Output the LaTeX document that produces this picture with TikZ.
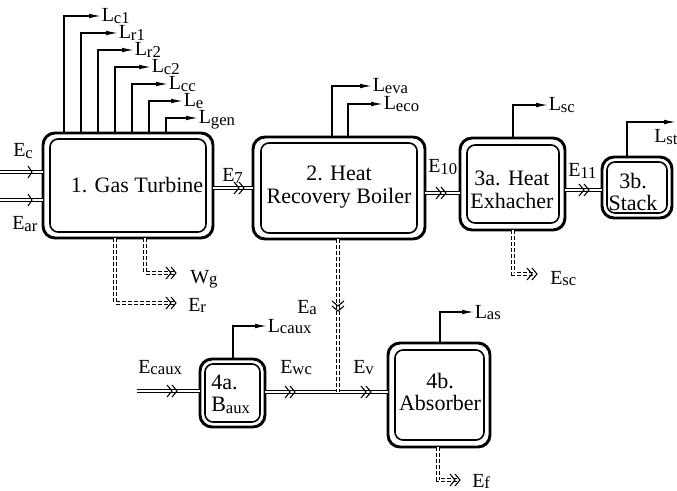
\documentclass[tikz,border=0pt]{standalone}
\usepackage{fontspec}
\setmainfont{Liberation Serif}
\usetikzlibrary{arrows.meta,fit,calc}
\newcommand\sbx[2]{#1{\fontsize{12.5}{12.5}\selectfont\raisebox{-0.8pt}{#2}}}
\begin{document}
\begin{tikzpicture}[x=0.75pt,y=-0.75pt,
  outerbox/.style={draw, line width=2.2pt, rounded corners=9pt, inner sep=0pt, outer sep=0pt},
  innerline/.style={line width=1.2pt, rounded corners=6pt},
  boxtext/.style={font=\rmfamily\fontsize{16.5}{17}\selectfont, align=center, inner sep=0pt},
  lab/.style={font=\rmfamily\fontsize{15}{15}\selectfont, inner sep=0pt},
  flow/.style={double, double distance=2.2pt, line width=0.75pt},
  dflow/.style={flow, dash pattern=on 3pt off 1.5pt},
  larrow/.style={line width=0.9pt, -{Latex[length=9pt,width=3.5pt]}},
  chev/.pic={\draw[line width=0.8pt] (-4,-6) -- (0,0) -- (-4,6);},
  chevv/.pic={\draw[line width=0.8pt] (-6,-6) -- (-1,0) -- (-6,6) (-1,-6) -- (4,0) -- (-1,6);},
  chevd/.pic={\draw[line width=0.8pt] (-6,-6) -- (0,-1) -- (6,-6) (-6,-1) -- (0,4) -- (6,-1);}
]
\useasboundingbox (0,0) rectangle (677,491);

% boxes
\node[outerbox, fit={(43,133) (213,238)}] (b1) {};
\node[outerbox, fit={(253,137) (425,239)}] (b2) {};
\node[outerbox, fit={(460,138) (565,230)}] (b3a) {};
\node[outerbox, fit={(602,157) (672,218)}] (b3b) {};
\node[outerbox, fit={(200,359) (265,427)}] (b4a) {};
\node[outerbox, fit={(388,343) (490,447)}] (b4b) {};
\draw[innerline] ([shift={(7,6)}]b1.north west) rectangle ([shift={(-7,-6)}]b1.south east);
\draw[innerline] ([shift={(8,6)}]b2.north west) rectangle ([shift={(-8,-6)}]b2.south east);
\draw[innerline] ([shift={(7,7)}]b3a.north west) rectangle ([shift={(-6,-7)}]b3a.south east);
\draw[innerline] ([shift={(5,5)}]b3b.north west) rectangle ([shift={(-5,-5)}]b3b.south east);
\draw[innerline] ([shift={(5,5)}]b4a.north west) rectangle ([shift={(-5,-5)}]b4a.south east);
\draw[innerline] ([shift={(7,7)}]b4b.north west) rectangle ([shift={(-6,-7)}]b4b.south east);

% box texts
\node[boxtext] (t1) at (137,185) {1. Gas Turbine};
\node[boxtext] (t2) at (339,187) {2. Heat\\Recovery Boiler};
\node[boxtext] (t3a) at (512,190) {3a. Heat\\Exhacher};
\node[boxtext] (t3b) at (633,192) {3b.\\Stack};
\node[boxtext, align=left, anchor=west] (t4a) at (211,394) {4a.\\\sbx{B}{aux}};
\node[boxtext] (t4b) at (440,392) {4b.\\Absorber};

% main flows
\coordinate (ecin) at (0,172);
\coordinate (earin) at (0,200);
\draw[flow] (ecin) -- (ecin -| b1.west);
\draw[flow] (earin) -- (earin -| b1.west);
\pic at (32,172) {chev};
\pic at (32,200) {chev};
\coordinate (e7) at (233,188);
\draw[flow] (e7 -| b1.east) -- (e7 -| b2.west);
\pic at (240,188) {chevv};
\coordinate (e10) at (440,193);
\draw[flow] (e10 -| b2.east) -- (e10 -| b3a.west);
\pic at (442,193) {chevv};
\coordinate (e11) at (584,190);
\draw[flow] (e11 -| b3a.east) -- (e11 -| b3b.west);
\pic at (585,190) {chevv};
\coordinate (ecaux) at (137,391);
\draw[flow] (ecaux) -- (ecaux -| b4a.west);
\pic at (173,391) {chevv};
\coordinate (jn) at (338,392);
\draw[flow] (jn -| b4a.east) -- (jn -| b4b.west);
\pic at (291,392) {chevv};
\pic at (367,392) {chevv};
\draw[dflow] (jn |- b2.south) -- (jn);
\pic at (338,307) {chevd};

% dashed outputs
\coordinate (wgc) at (145,273); \coordinate (wge) at (174,273);
\draw[dflow] (wgc |- b1.south) -- (wgc) -- (wge);
\pic at (172,273) {chevv};
\coordinate (erc) at (115,303); \coordinate (ere) at (174,303);
\draw[dflow] (erc |- b1.south) -- (erc) -- (ere);
\pic at (172,303) {chevv};
\coordinate (escc) at (513,274); \coordinate (esce) at (535,274);
\draw[dflow] (escc |- b3a.south) -- (escc) -- (esce);
\pic at (533,274) {chevv};
\coordinate (efc) at (438,480); \coordinate (efe) at (458,480);
\draw[dflow] (efc |- b4b.south) -- (efc) -- (efe);
\pic at (456,480) {chevv};

% L outputs of gas turbine
\foreach \x/\y/\xe/\s/\nm in {64/16/101/c1/lca, 81/33/118/r1/lra, 98/50/134/r2/lrb, 115/67/151/c2/lcb, 132/84/168/cc/lcc, 149/101/183/e/le, 166/118/198/gen/lgen}{
  \coordinate (\nm c) at (\x,\y);
  \coordinate (\nm e) at (\xe,\y);
  \draw[larrow] (\nm c |- b1.north) -- (\nm c) -- (\nm e);
  \node[lab, anchor=base west] (\nm) at ([shift={(0.5,6)}]\nm e) {\sbx{L}{\s}};
}
% other L outputs
\foreach \bx/\x/\y/\xe/\s/\nm in {b2/332/86/372/eva/leva, b2/348/104/383/eco/leco, b3a/513/105/548/sc/lsc, b4a/233/326/267/caux/lcaux, b4b/440/312/474/as/las}{
  \coordinate (\nm c) at (\x,\y);
  \coordinate (\nm e) at (\xe,\y);
  \draw[larrow] (\nm c |- \bx.north) -- (\nm c) -- (\nm e);
  \node[lab, anchor=base west] (\nm) at ([shift={(0.5,6)}]\nm e) {\sbx{L}{\s}};
}
\coordinate (lstc) at (627,122); \coordinate (lste) at (676,122);
\draw[larrow] (lstc |- b3b.north) -- (lstc) -- (lste);
\node[lab, anchor=base west] (lst) at (654,143) {\sbx{L}{st}};

% E labels
\node[lab, anchor=base west] (lec) at (13,157) {\sbx{E}{c}};
\node[lab, anchor=base west] (lear) at (12,230) {\sbx{E}{ar}};
\node[lab, anchor=base west] (le7) at (222,182) {\sbx{E}{7}};
\node[lab, anchor=base west] (le10) at (428,173) {\sbx{E}{10}};
\node[lab, anchor=base west] (le11) at (568,177) {\sbx{E}{11}};
\node[lab, anchor=base west] (lea) at (297,313) {\sbx{E}{a}};
\node[lab, anchor=base west] (lecaux) at (138,373) {\sbx{E}{caux}};
\node[lab, anchor=base west] (lewc) at (280,373) {\sbx{E}{wc}};
\node[lab, anchor=base west] (lev) at (353,373) {\sbx{E}{v}};
\node[lab, anchor=base west] (lwg) at (190,283) {\sbx{W}{g}};
\node[lab, anchor=base west] (ler) at (188,311) {\sbx{E}{r}};
\node[lab, anchor=base west] (lesc) at (550,284) {\sbx{E}{sc}};
\node[lab, anchor=base west] (lef) at (472,487) {\sbx{E}{f}};
\end{tikzpicture}
\end{document}
